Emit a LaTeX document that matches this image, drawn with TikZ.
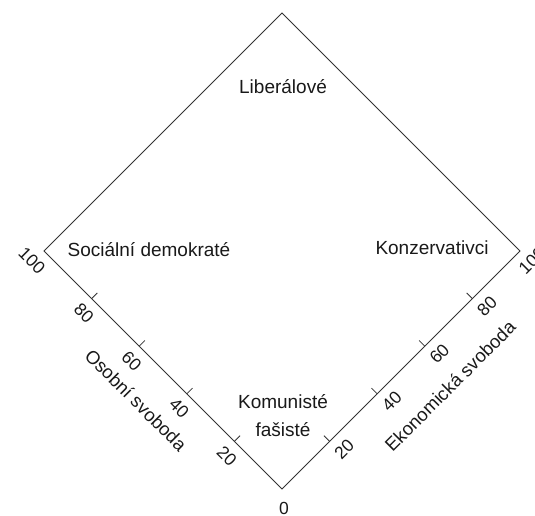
\documentclass[tikz,border=0pt]{standalone}
\usepackage{fontspec}
\setmainfont{Liberation Sans}
\usetikzlibrary{calc}
\begin{document}
\begin{tikzpicture}[x=1bp,y=-1bp,
  edge/.style={draw=black!80, line width=0.8bp},
  tickline/.style={draw=black!80, line width=0.8bp},
  lab/.style={text=black!90, font=\fontsize{19bp}{28bp}\selectfont, inner sep=0pt, align=center},
  num/.style={text=black!90, font=\fontsize{17.5bp}{19bp}\selectfont, inner sep=0pt},
  ttl/.style={text=black!90, font=\fontsize{18.5bp}{20bp}\selectfont, inner sep=0pt}]
\useasboundingbox (0,0) rectangle (535,516);
\coordinate (T) at (282,13);
\coordinate (L) at (44,251);
\coordinate (R) at (520,251);
\coordinate (B) at (282,489);
\draw[edge] (T) -- (R) -- (B) -- (L) -- cycle;
% ticks and numbers
\foreach \v/\f in {20/0.2,40/0.4,60/0.6,80/0.8}{
  \coordinate (tl\v) at ($(B)!\f!(L)$);
  \coordinate (tr\v) at ($(B)!\f!(R)$);
  \draw[tickline] (tl\v) -- ++(5.7,-5.7);
  \draw[tickline] (tr\v) -- ++(-5.7,-5.7);
  \node[num, rotate=-45] (nl\v) at ($(tl\v)+(-7.6,14.6)$) {\v};
  \node[num, rotate=45] (nr\v) at ($(tr\v)+(14.6,7.6)$) {\v};
}
\node[num, rotate=-45] (nl100) at (32,261) {100};
\node[num, rotate=45] (nr100) at (532,261) {100};
\node[num] (n0) at (284,508) {0};
% region labels
\node[lab] (lib) at (283,87) {Liberálové};
\node[lab] (soc) at (149,250) {Sociální demokraté};
\node[lab] (kon) at (432,248) {Konzervativci};
\node[lab] (kom) at (283,416) {Komunisté\\fašisté};
% axis titles
\node[ttl, rotate=-45] (osob) at (136,400) {Osobní svoboda};
\node[ttl, rotate=45] (ekon) at (450,386) {Ekonomická svoboda};
\end{tikzpicture}
\end{document}
